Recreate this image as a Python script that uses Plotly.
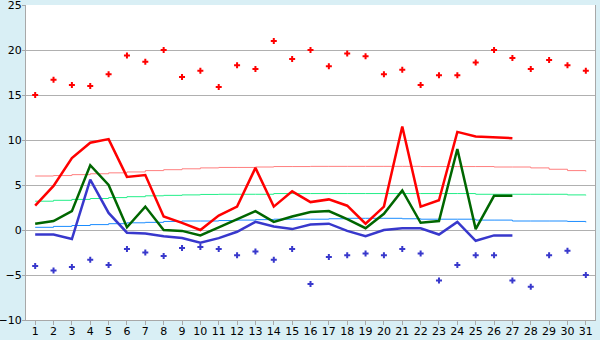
import plotly.graph_objects as go

days = list(range(1, 32))
day_labels = [str(d) for d in days]

# daily extremes (points)
abs_max = [15.0, 16.7, 16.1, 16.0, 17.3, 19.4, 18.7, 20.0, 17.0, 17.7, 15.9, 18.3, 17.9, 21.0, 19.0, 20.0,
           18.2, 19.6, 19.3, 17.3, 17.8, 16.1, 17.2, 17.2, 18.6, 20.0, 19.1, 17.9, 18.9, 18.3, 17.7]
abs_min = [-4.0, -4.5, -4.1, -3.3, -3.9, -2.1, -2.5, -2.9, -2.0, -1.9, -2.1, -2.8, -2.4, -3.3, -2.1, -6.0,
           -3.0, -2.8, -2.6, -2.8, -2.1, -2.6, -5.6, -3.9, -2.8, -2.8, -5.6, -6.3, -2.8, -2.3, -5.0]

# current month (days 1-27)
obs_days = list(range(1, 28))
obs_max = [2.7, 4.9, 8.0, 9.7, 10.1, 5.9, 6.1, 1.5, 0.8, 0.0, 1.6, 2.6, 6.9, 2.6, 4.3, 3.1,
           3.4, 2.7, 0.7, 2.6, 11.5, 2.6, 3.3, 10.9, 10.4, 10.3, 10.2]
obs_mean = [0.7, 1.0, 2.1, 7.2, 5.0, 0.3, 2.6, 0.0, -0.1, -0.6, 0.3, 1.2, 2.1, 0.9, 1.5, 2.0,
            2.1, 1.2, 0.2, 1.8, 4.4, 0.8, 1.0, 9.0, 0.1, 3.8, 3.8]
obs_min = [-0.5, -0.5, -1.0, 5.6, 1.9, -0.3, -0.4, -0.7, -0.9, -1.4, -0.9, -0.2, 0.9, 0.4, 0.1, 0.6,
           0.7, -0.1, -0.7, 0.0, 0.2, 0.2, -0.5, 0.9, -1.2, -0.6, -0.6]

# long-term averages
norm_max = [6.0, 6.05, 6.15, 6.25, 6.35, 6.45, 6.6, 6.7, 6.8, 6.9, 6.95, 6.95, 7.0, 7.05, 7.05, 7.07,
            7.07, 7.07, 7.07, 7.07, 7.07, 7.05, 7.05, 7.05, 7.05, 7.0, 7.0, 6.9, 6.75, 6.6, 6.5]
norm_mean = [3.2, 3.3, 3.4, 3.5, 3.6, 3.7, 3.8, 3.85, 3.9, 3.95, 3.97, 3.97, 3.97, 4.05, 4.05, 4.05,
             4.05, 4.05, 4.05, 4.05, 4.05, 4.05, 4.05, 4.05, 3.97, 3.97, 3.97, 3.97, 3.97, 3.9, 3.85]
norm_min = [0.3, 0.4, 0.5, 0.6, 0.7, 0.8, 0.85, 0.95, 1.0, 1.0, 1.05, 1.1, 1.15, 1.2, 1.2, 1.2,
            1.25, 1.3, 1.3, 1.3, 1.25, 1.2, 1.2, 1.2, 1.1, 1.1, 1.0, 1.0, 1.0, 0.95, 0.85]

y_ticks = [-10, -5, 0, 5, 10, 15, 20, 25]

fig = go.Figure()

fig.add_trace(go.Scatter(x=days, y=norm_max, mode="lines", line=dict(color="#ff7f7f", width=1, shape="hv")))
fig.add_trace(go.Scatter(x=days, y=norm_mean, mode="lines", line=dict(color="#22ee88", width=1, shape="hv")))
fig.add_trace(go.Scatter(x=days, y=norm_min, mode="lines", line=dict(color="#1a8cff", width=1, shape="hv")))

fig.add_trace(go.Scatter(x=obs_days, y=obs_max, mode="lines", line=dict(color="#ff0000", width=2.5)))
fig.add_trace(go.Scatter(x=obs_days, y=obs_mean, mode="lines", line=dict(color="#006600", width=2.5)))
fig.add_trace(go.Scatter(x=obs_days, y=obs_min, mode="lines", line=dict(color="#3838cc", width=2.5)))

fig.add_trace(go.Scatter(x=days, y=abs_max, mode="markers",
                         marker=dict(symbol="cross", size=5, color="#ff0000", line=dict(width=0))))
fig.add_trace(go.Scatter(x=days, y=abs_min, mode="markers",
                         marker=dict(symbol="cross", size=5, color="#3838cc", line=dict(width=0))))

fig.update_layout(
    width=600, height=340,
    margin=dict(l=26, r=5, t=5, b=20),
    paper_bgcolor="#d9eff5",
    plot_bgcolor="#ffffff",
    showlegend=False,
    hovermode=False,
    font=dict(family="DejaVu Sans", size=11, color="#000000"),
    xaxis=dict(
        range=[0.5, 31.5], tickmode="array", tickvals=days, ticktext=day_labels,
        ticks="outside", ticklen=4, tickcolor="#a8a8a8", showgrid=False, zeroline=False,
        showline=True, linecolor="#a8a8a8", linewidth=1, mirror=False, automargin=False,
        fixedrange=True, ticklabelstandoff=-3,
    ),
    yaxis=dict(
        range=[-10, 25], tickmode="array", tickvals=y_ticks, ticks="outside", ticklen=3,
        tickcolor="#a8a8a8", showgrid=True, gridcolor="#b0b0b0", gridwidth=1, zeroline=False,
        showline=True, linecolor="#a8a8a8", linewidth=1, mirror=True, automargin=False,
        fixedrange=True, ticklabeloverflow="allow", ticklabelstandoff=-2,
    ),
)

fig.write_html("out.html", config={"displayModeBar": False})
